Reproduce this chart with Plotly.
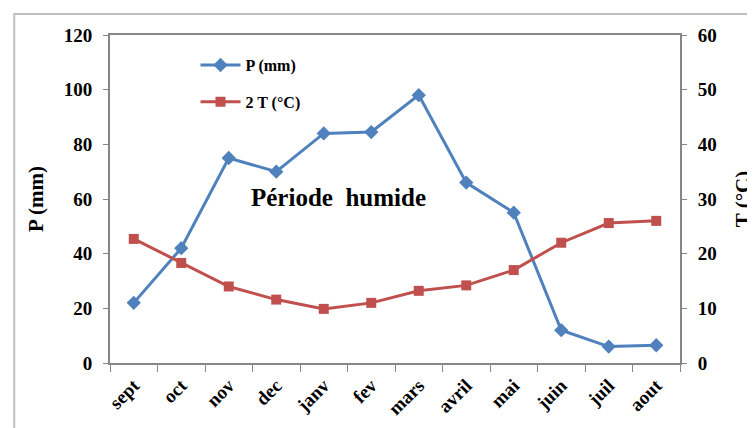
import plotly.graph_objects as go

months = ["sept", "oct", "nov", "dec", "janv", "fev", "mars", "avril", "mai", "juin", "juil", "aout"]
precip_mm = [22, 42, 75, 70, 84, 84.5, 98, 66, 55, 12, 6, 6.5]
temp_c = [22.7, 18.3, 14.0, 11.6, 9.9, 11.0, 13.2, 14.2, 17.0, 22.0, 25.6, 26.0]

left_ticks = [0, 20, 40, 60, 80, 100, 120]
right_ticks = [0, 10, 20, 30, 40, 50, 60]

FONT = "Liberation Serif"
BLUE = "#4F81BD"
RED = "#C0504D"
GREY = "#868686"

fig = go.Figure()
fig.add_trace(go.Scatter(
    x=months, y=precip_mm, name="<b>P (mm)</b>", mode="lines+markers",
    line=dict(color=BLUE, width=3), marker=dict(symbol="diamond", size=11, color=BLUE),
    legendgroup="p"))
fig.add_trace(go.Scatter(
    x=months, y=temp_c, name="<b>2 T (°C)</b>", mode="lines+markers", yaxis="y2",
    line=dict(color=RED, width=3), marker=dict(symbol="square", size=10, color=RED),
    legendgroup="t"))

tickfont = dict(family=FONT, size=19, color="black", weight="bold")

fig.update_layout(
    width=755, height=428,
    margin=dict(l=102, r=76, t=27, b=73),
    paper_bgcolor="white", plot_bgcolor="white",
    font=dict(family=FONT, size=15, color="black"),
    showlegend=True,
    legend=dict(x=0.15, y=0.96, xanchor="left", yanchor="top", bgcolor="rgba(0,0,0,0)",
                font=dict(family=FONT, size=16, color="black"), tracegroupgap=13,
                itemwidth=40),
    xaxis=dict(type="category", range=[-0.5, 11.5], tickangle=-45, showline=True,
               linecolor=GREY, linewidth=2, mirror=True, ticks="outside", ticklen=7,
               tickcolor=GREY, tickson="boundaries", showgrid=False, tickfont=tickfont,
               ticklabelstandoff=2),
    yaxis=dict(range=[0, 120], tickvals=left_ticks, showline=True, linecolor=GREY, linewidth=2,
               ticks="outside", ticklen=5, tickcolor=GREY, showgrid=False, zeroline=False,
               tickfont=tickfont, ticklabelstandoff=7,
               title=dict(text="<b>P (mm)</b>", font=dict(family=FONT, size=21), standoff=14)),
    yaxis2=dict(range=[0, 60], tickvals=right_ticks, overlaying="y", side="right", showline=True,
                linecolor=GREY, linewidth=2, ticks="outside", ticklen=5, tickcolor=GREY,
                showgrid=False, zeroline=False, tickfont=tickfont, ticklabelstandoff=7,
                title=dict(text="<b>T (°C)</b>", font=dict(family=FONT, size=21), standoff=20)),
)

fig.add_annotation(x=0.40, y=0.506, xref="paper", yref="paper",
                   text="<b>Période&nbsp;&nbsp;humide</b>",
                   showarrow=False, font=dict(family=FONT, size=25, color="black"))

fig.add_shape(type="rect", xref="paper", yref="paper", x0=-0.168, y0=-0.4, x1=1.3, y1=1.064,
              line=dict(color="#BFBFBF", width=2), layer="below")

fig.write_html("out.html")
